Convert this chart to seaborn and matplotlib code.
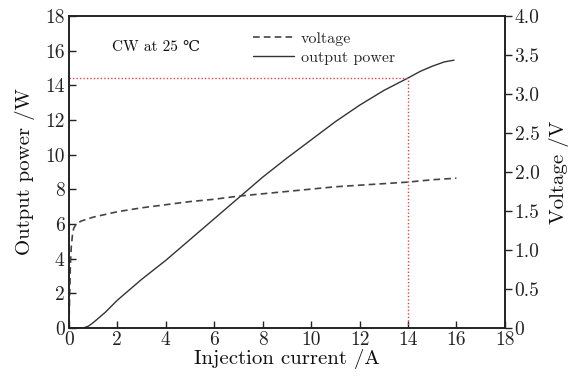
import matplotlib
matplotlib.use("Agg")
import matplotlib.pyplot as plt
import seaborn as sns
import pandas as pd

sns.set_theme(style="ticks")
plt.rcParams['font.family'] = ['cmr10', 'DejaVu Serif']
plt.rcParams['axes.formatter.use_mathtext'] = True
plt.rcParams['axes.unicode_minus'] = False

# power curve (A, W)
power_current = [0.0, 0.6, 0.8, 1.0, 1.5, 2.0, 3.0, 4.0, 5.0, 6.0, 7.0, 8.0, 9.0, 10.0, 11.0, 12.0, 13.0, 14.0, 14.5, 15.0, 15.5, 15.9]
power_watt = [0.0, 0.0, 0.1, 0.3, 0.9, 1.6, 2.8, 3.9, 5.1, 6.3, 7.5, 8.7, 9.8, 10.85, 11.9, 12.85, 13.7, 14.42, 14.8, 15.1, 15.35, 15.45]

# voltage curve (A, V)
volt_current = [0.0, 0.03, 0.06, 0.1, 0.15, 0.2, 0.3, 0.5, 1.0, 2.0, 3.0, 4.0, 5.0, 6.0, 7.0, 8.0, 9.0, 10.0, 11.0, 12.0, 13.0, 14.0, 15.0, 16.0]
volt_value = [0.0, 0.4, 0.8, 1.05, 1.2, 1.28, 1.33, 1.37, 1.42, 1.49, 1.54, 1.58, 1.62, 1.65, 1.69, 1.72, 1.75, 1.78, 1.81, 1.83, 1.85, 1.87, 1.9, 1.92]

ref_current = 14.0
ref_power = 14.4

left_ticks = [0, 2, 4, 6, 8, 10, 12, 14, 16, 18]
right_ticks = [0, 0.5, 1.0, 1.5, 2.0, 2.5, 3.0, 3.5, 4.0]
right_labels = ["0", "0.5", "1.0", "1.5", "2.0", "2.5", "3.0", "3.5", "4.0"]
x_ticks = [0, 2, 4, 6, 8, 10, 12, 14, 16, 18]

fig = plt.figure(figsize=(5.79, 3.80), dpi=100)
ax = fig.add_axes([0.119, 0.137, 0.753, 0.821])
ax2 = ax.twinx()

dfp = pd.DataFrame({"I": power_current, "P": power_watt})
dfv = pd.DataFrame({"I": volt_current, "V": volt_value})

sns.lineplot(data=dfv, x="I", y="V", ax=ax2, color="#444444", lw=1.2,
             linestyle=(0, (4, 2.5)), label="voltage", legend=False)
sns.lineplot(data=dfp, x="I", y="P", ax=ax, color="#333333", lw=1.0,
             label="output power", legend=False)

# red reference lines
ax.plot([0, ref_current], [ref_power, ref_power], color="#e8404a", lw=1.0, linestyle=(0, (1, 1.5)))
ax.plot([ref_current, ref_current], [0, ref_power], color="#e8404a", lw=1.0, linestyle=(0, (1, 1.5)))

ax.set_xlim(0, 18)
ax.set_ylim(0, 18)
ax2.set_ylim(0, 4.0)
ax.set_xticks(x_ticks)
ax.set_xticklabels([str(t) for t in x_ticks])
ax.set_yticks(left_ticks)
ax.set_yticklabels([str(t) for t in left_ticks])
ax2.set_yticks(right_ticks)
ax2.set_yticklabels(right_labels)

ax.tick_params(axis="both", direction="in", length=5, width=1, labelsize=14, pad=3, colors="#222222")
ax2.tick_params(axis="y", direction="out", length=5, width=1, labelsize=14, pad=2, colors="#222222")
ax.tick_params(axis="x", pad=2)

ax.set_xlabel("Injection current /A", fontsize=15, labelpad=0, color="#111111")
ax.set_ylabel("Output power /W", fontsize=15, labelpad=7, color="#111111")
ax2.set_ylabel("Voltage /V", fontsize=15, labelpad=7, color="#111111")

for a in (ax, ax2):
    for s in a.spines.values():
        s.set_linewidth(1.2)
        s.set_color("#222222")

ax.text(1.8, 16.2, "CW at 25 ℃", fontsize=11, ha="left", va="center", color="#111111")

h1, l1 = ax2.get_legend_handles_labels()
h2, l2 = ax.get_legend_handles_labels()
leg = ax.legend(h1 + h2, l1 + l2, loc="upper left", bbox_to_anchor=(0.4, 0.98),
                frameon=False, fontsize=11.5, handlelength=2.6, handletextpad=0.4,
                labelspacing=0.3, borderaxespad=0.2)

fig.savefig("out.png", dpi=100)
